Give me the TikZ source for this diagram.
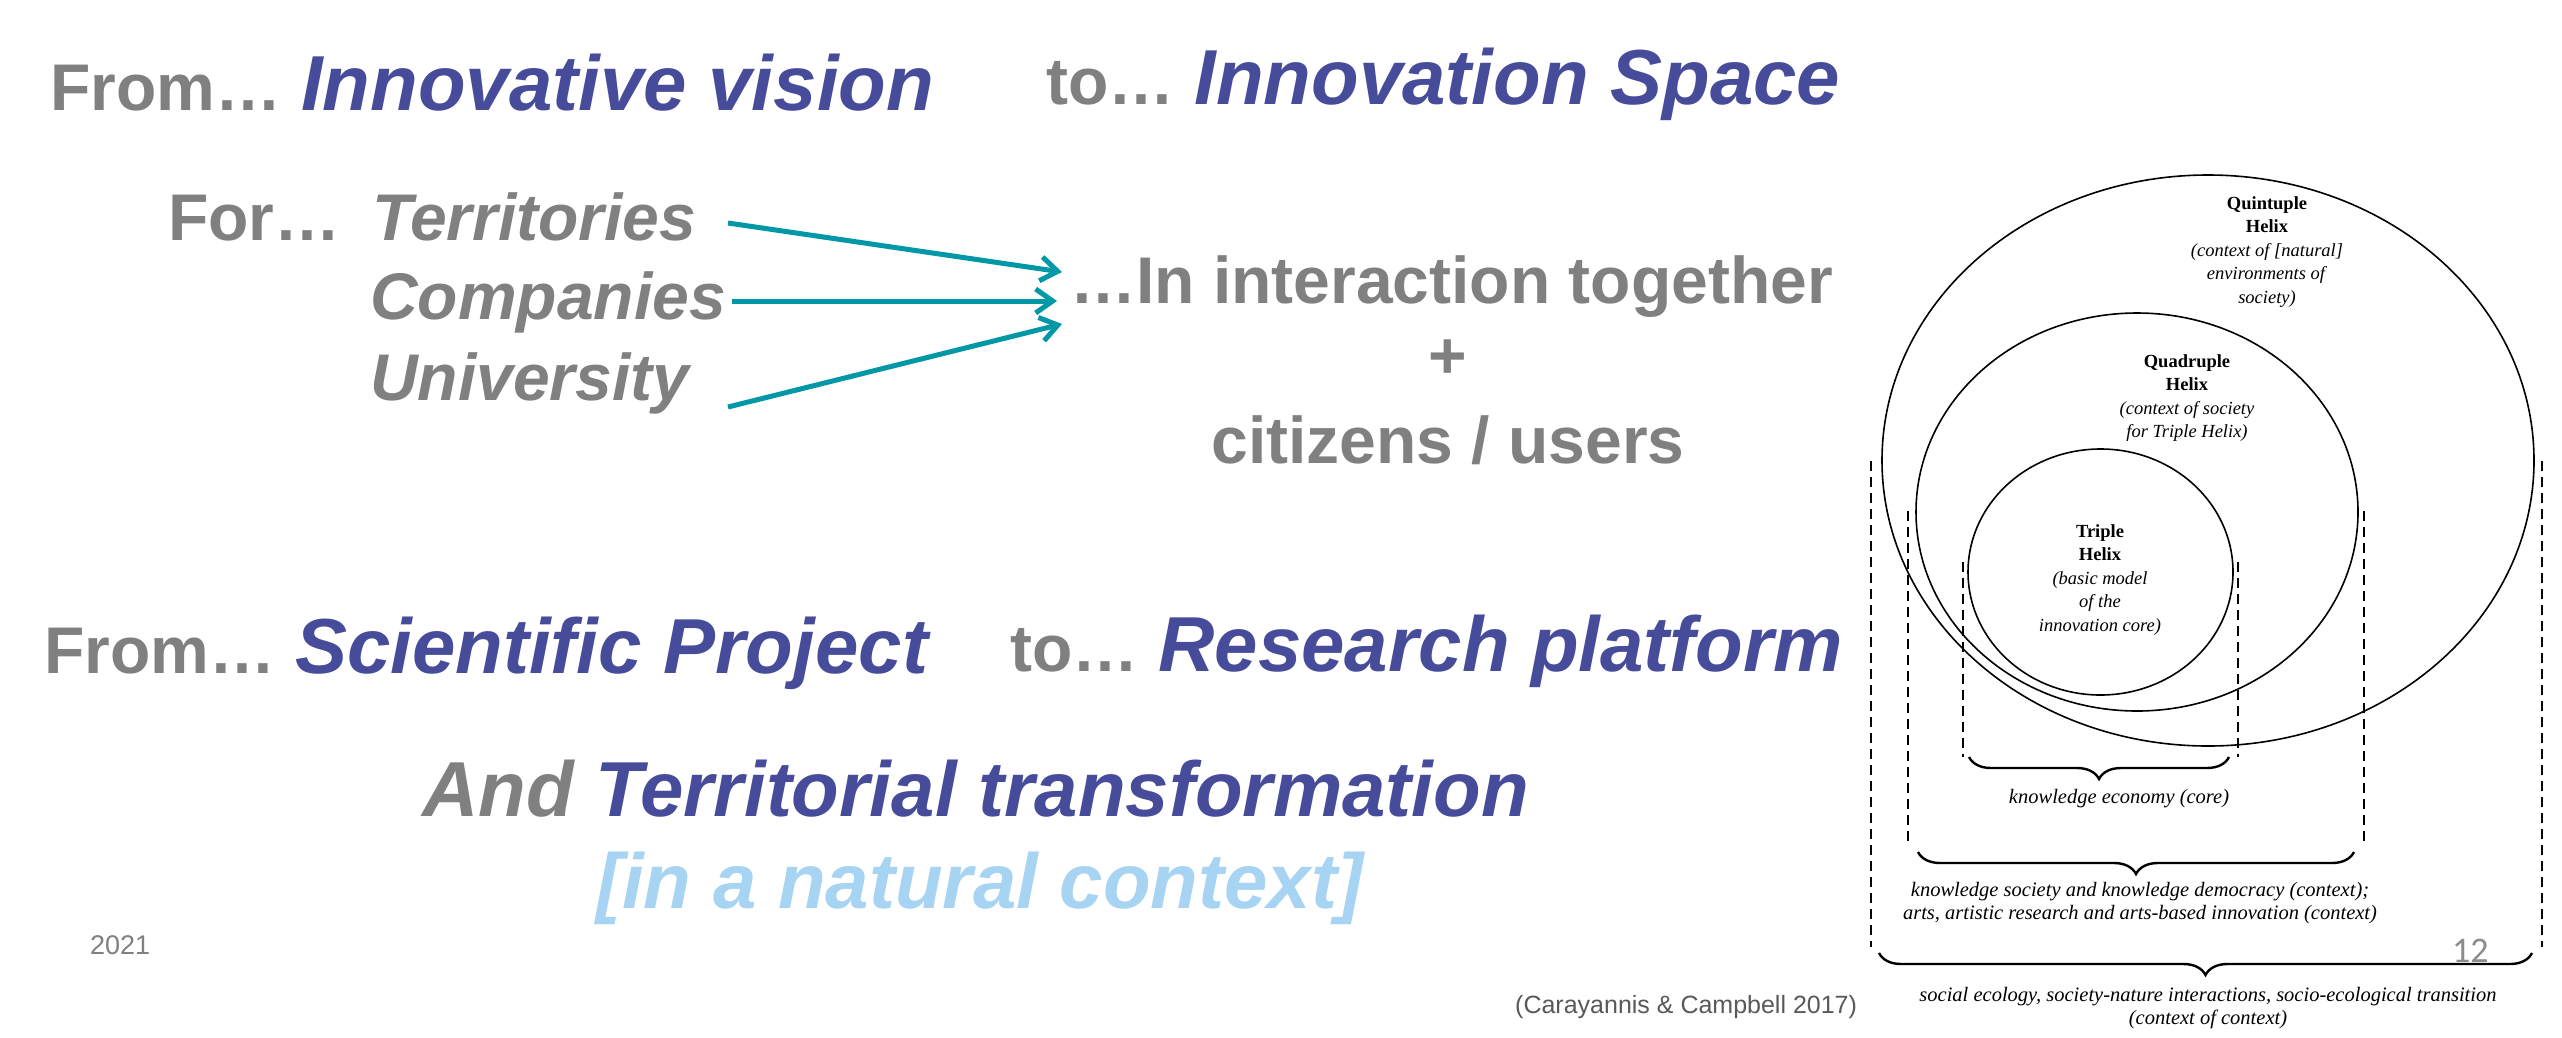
\documentclass[tikz,border=0pt]{standalone}
\usepackage{fontspec}
\newfontfamily\sansA{Liberation Sans}
\newfontfamily\serifB{Liberation Serif}
\newfontfamily\numfont{Carlito}
\usetikzlibrary{arrows.meta,decorations.pathreplacing,shapes.geometric}

\definecolor{txtgray}{RGB}{128,128,128}
\definecolor{txtblue}{RGB}{71,76,154}
\definecolor{lightblue}{RGB}{166,212,242}
\definecolor{arrowteal}{RGB}{0,151,167}
\definecolor{darkgray}{RGB}{89,89,89}
\definecolor{pagegray}{RGB}{140,140,140}

% grey lead-in words and large blue key phrases
\newcommand\leadword[1]{{\color{txtgray}\fontsize{66}{72}\selectfont #1}}
\newcommand\keyphrase[1]{{\color{txtblue}\fontsize{78}{84}\selectfont\itshape #1}}

\begin{document}
\begin{tikzpicture}[x=1pt,y=-1pt,
  headline/.style={inner sep=0pt, anchor=base west, font=\sansA\bfseries},
  actor/.style={inner sep=0pt, anchor=base west, text=txtgray,
    font=\sansA\bfseries\itshape\fontsize{66}{72}\selectfont},
  plain/.style={inner sep=0pt, text=txtgray,
    font=\sansA\bfseries\fontsize{66}{72}\selectfont},
  flow/.style={draw=arrowteal, line width=5pt,
    -{Straight Barb[length=17pt,width=24pt]}},
  ring/.style={draw=black, line width=1.6pt, ellipse, inner sep=0pt},
  ringlabel/.style={inner sep=0pt, align=center,
    font=\serifB\fontsize{18.5}{23.5}\selectfont},
  guide/.style={draw=black, line width=1.8pt, dash pattern=on 10pt off 6pt},
  bracket/.style={draw=black, line width=2.4pt, decorate,
    decoration={brace, mirror, amplitude=22pt}},
  caption/.style={inner sep=0pt, align=center,
    font=\serifB\itshape\fontsize{20.5}{23}\selectfont},
]
\fill[white] (0,0) rectangle (2562,1037);
\path[use as bounding box] (0,0) rectangle (2562,1037);

% ---------- headlines ----------
\node[headline] (vision) at (50,110)
  {\leadword{From…}\hspace{20pt}\keyphrase{Innovative vision}};
\node[headline] (space) at (1046,104)
  {\leadword{to…}\hspace{20pt}\keyphrase{Innovation Space}};

% ---------- actors ----------
\node[actor, font=\sansA\bfseries\fontsize{66}{72}\selectfont] (for) at (168,240) {For…};
\node[actor] (terr) at (372,240) {Territories};
\node[actor] (comp) at (370,319) {Companies};
\node[actor] (univ) at (370,400) {University};

\node[plain, anchor=base west] (inter) at (1070,303) {…In interaction together};
\node[plain] (plus) at (1448,359) {+};
\node[plain, anchor=base] (citizens) at (1448,463) {citizens / users};

\coordinate (terrOut) at (728,223);
\coordinate (compOut) at (732,301);
\coordinate (univOut) at (728,407);
\coordinate (interInA) at (1062,272);
\coordinate (interInB) at (1057,301);
\coordinate (interInC) at (1062,324);
\draw[flow] (terrOut) -- (interInA);
\draw[flow] (compOut) -- (interInB);
\draw[flow] (univOut) -- (interInC);

% ---------- second block ----------
\node[headline] (project) at (44,673)
  {\leadword{From…}\hspace{20pt}\keyphrase{Scientific Project}};
\node[headline] (platform) at (1010,671)
  {\leadword{to…}\hspace{20pt}\keyphrase{Research platform}};
\node[headline] (transform) at (422,816)
  {\fontsize{78}{84}\selectfont\itshape{\color{txtgray}And} {\color{txtblue}Territorial transformation}};
\node[headline, text=lightblue, font=\sansA\bfseries\itshape\fontsize{78}{84}\selectfont]
  (natural) at (596,908) {[in a natural context]};

\node[inner sep=0pt, anchor=base west, text=txtgray, font=\sansA\fontsize{27}{30}\selectfont]
  (year) at (90,954) {2021};
\node[inner sep=0pt, anchor=base west, text=darkgray, font=\sansA\fontsize{25}{30}\selectfont]
  (cite) at (1515,1013) {(Carayannis \& Campbell 2017)};
\node[inner sep=0pt, anchor=base west, text=pagegray, font=\numfont\fontsize{36}{40}\selectfont]
  (page) at (2452,962) {12};

% ---------- helix model ----------
\node[ring, minimum width=652pt, minimum height=571pt] (quint) at (2208,460.5) {};
\node[ring, minimum width=442pt, minimum height=398pt] (quad) at (2137,512) {};
\node[ring, minimum width=265pt, minimum height=246pt] (triple) at (2100.5,572) {};

\node[ringlabel] (quintlbl) at (2267,252)
  {\textbf{Quintuple}\\\textbf{Helix}\\\textit{(context of [natural]}\\\textit{environments of}\\\textit{society)}};
\node[ringlabel] (quadlbl) at (2187,398)
  {\textbf{Quadruple}\\\textbf{Helix}\\\textit{(context of society}\\\textit{for Triple Helix)}};
\node[ringlabel] (triplelbl) at (2100,580)
  {\textbf{Triple}\\\textbf{Helix}\\\textit{(basic model}\\\textit{of the}\\\textit{innovation core)}};

% dashed extent markers
\draw[guide] (1963,562) -- (1963,757);
\draw[guide] (2238,562) -- (2238,757);
\draw[guide] (1908,511) -- (1908,846);
\draw[guide] (2364,511) -- (2364,846);
\draw[guide] (1871,461) -- (1871,947);
\draw[guide] (2542,461) -- (2542,947);

% braces and their captions
\draw[bracket] (1969,757) -- (2229,757);
\draw[bracket] (1918,852) -- (2354,852);
\draw[bracket] (1879,953) -- (2532,953);

\node[caption] (core) at (2119,799) {knowledge economy (core)};
\node[caption] (society) at (2140,903)
  {knowledge society and knowledge democracy (context);\\arts, artistic research and arts-based innovation (context)};
\node[caption] (ecology) at (2208,1008)
  {social ecology, society-nature interactions, socio-ecological transition\\(context of context)};
\end{tikzpicture}
\end{document}
